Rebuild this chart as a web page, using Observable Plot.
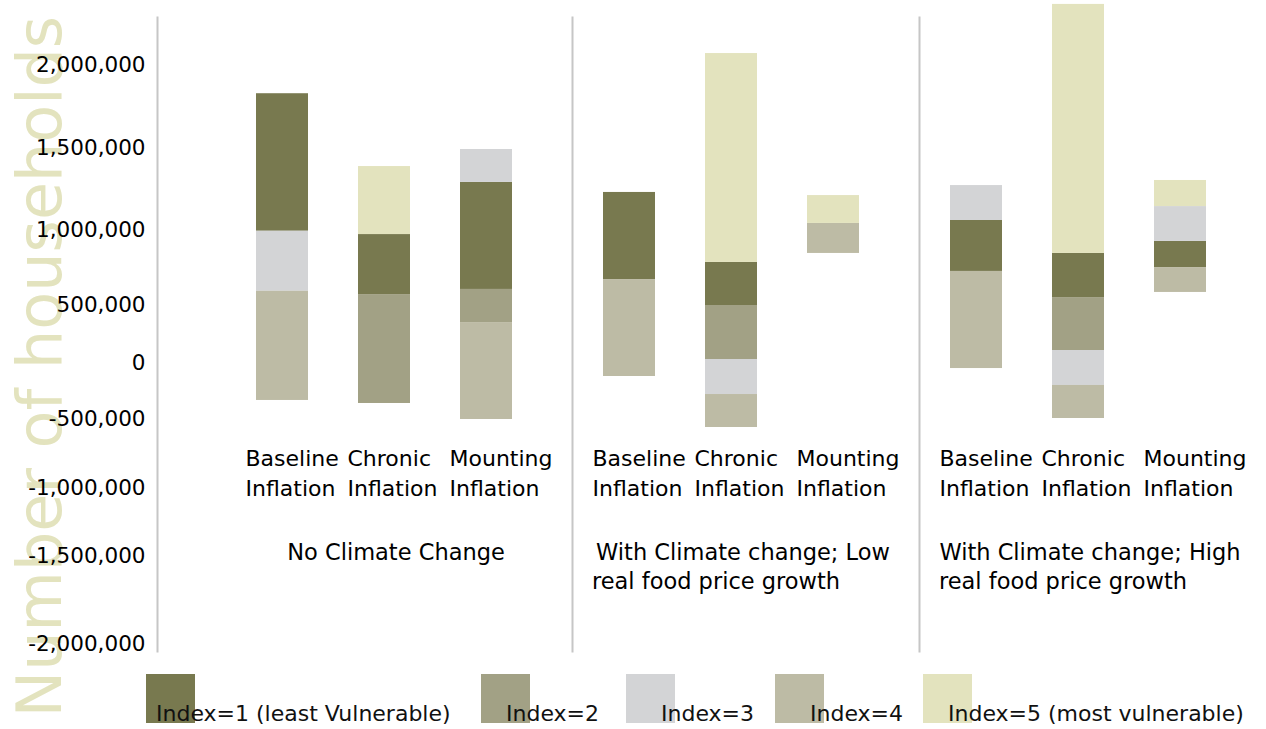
<!DOCTYPE html>
<html><head><meta charset="utf-8">
<script src="https://cdn.jsdelivr.net/npm/d3@7"></script>
<script src="https://cdn.jsdelivr.net/npm/@observablehq/plot@0.6"></script>
<style>
body{margin:0;background:#fff;font-family:"DejaVu Sans",sans-serif;}
#chart{position:relative;width:1266px;height:729px;overflow:hidden}
#legend{position:relative;width:1266px;height:64px}
.sw{position:absolute;top:9px;width:49px;height:49px}
.lb{position:absolute;top:38px;font-size:22px;line-height:22px;color:#111;white-space:nowrap}
</style></head><body><div id="chart"></div>
<script>
// ---- data ----
const groups = ["No Climate Change", "With Climate change; Low real food price growth", "With Climate change; High real food price growth"];
const groupLine1 = ["No Climate Change", "With Climate change; Low", "With Climate change; High"];
const groupLine2 = [null, "real food price growth", "real food price growth"];
const scenarios = ["Baseline Inflation", "Chronic Inflation", "Mounting Inflation"];
const indexNames = ["Index=1 (least Vulnerable)", "Index=2", "Index=3", "Index=4", "Index=5 (most vulnerable)"];
// segment [from, to] in households; bar order: NCC B,C,M | CC-low B,C,M | CC-high B,C,M
const index1 = [[995000,1830000],[573000,973000],[607000,1293000],[673000,1232000],[500000,787000],null,[727000,1061000],[553000,847000],[753000,927000]];
const index2 = [null,[-357000,573000],[353000,607000],null,[34500,500000],null,null,[112000,553000],null];
const index3 = [[595000,995000],null,[1293000,1494000],null,[-277000,34500],null,[1061000,1274000],[-196000,112000],[927000,1146000]];
const index4 = [[-330000,595000],null,[-500000,353000],[-116000,673000],[-558000,-277000],[847000,1043000],[-45000,727000],[-491000,-196000],[587000,753000]];
const index5 = [null,[973000,1390000],null,null,[787000,2072000],[1043000,1213000],null,[847000,2368000],[1146000,1305000]];
const yTicks = [2000000,1500000,1000000,500000,0,-500000,-1000000,-1500000,-2000000];

// ---- layout / style ----
// the printed value axis is unevenly spaced; warp maps households onto it
const yTickPixels = [65,148,230,305,363,419,488,556,644];
const warp = d3.scaleLinear().domain(yTicks).range(yTickPixels);
const colors = ["#78794f","#a2a185","#d3d4d6","#bdbba5","#e3e3be"];
const lineColor = "#c6c6c6";

const series = [index1,index2,index3,index4,index5];
const bars = [];
series.forEach((arr,k) => arr.forEach((seg,j) => {
  if (seg) bars.push({group: groups[Math.floor(j/3)], scenario: scenarios[j%3], index: indexNames[k], y1: seg[0], y2: seg[1]});
}));
const cats = groups.flatMap(g => scenarios.map(s => ({group: g, scenario: s})));
const grp = groups.map((g,i) => ({group: g, l1: groupLine1[i], l2: groupLine2[i]}));
const fmt = v => (Math.round(warp.invert(v) / 1000) * 1000).toLocaleString("en-US");

const plot = Plot.plot({
  width: 1266, height: 665,
  marginLeft: 157, marginRight: 0, marginTop: 17, marginBottom: 14,
  style: {fontFamily: "DejaVu Sans, sans-serif", fontSize: "22px", overflow: "visible", background: "#fff"},
  fx: {domain: groups, paddingInner: 0, paddingOuter: 0.0934, align: 1, axis: null, label: null},
  x: {domain: scenarios, paddingInner: 0.495, paddingOuter: 0.437, align: 0.344, axis: null, label: null},
  y: {transform: warp, domain: [warp(-2000000), warp(2000000)], range: [warp(-2000000), warp(2000000)], label: null},
  color: {domain: indexNames, range: colors},
  marks: [
    Plot.text(["Number of households"], {fx: () => groups[0], frameAnchor: "left", textAnchor: "middle", rotate: -90, lineAnchor: "bottom", dx: -165, dy: 32, fontSize: 62, fill: colors[4]}),
    Plot.frame({anchor: "left", fx: () => groups[0], dx: -68, stroke: lineColor, strokeWidth: 2}),
    Plot.frame({anchor: "left", fx: () => groups[1], stroke: lineColor, strokeWidth: 2}),
    Plot.frame({anchor: "left", fx: () => groups[2], stroke: lineColor, strokeWidth: 2}),
    Plot.axisY({ticks: yTicks.map(warp), tickFormat: fmt, tickSize: 0, tickPadding: 80, fontSize: 21.5, label: null, color: "#000"}),
    Plot.barY(bars, {fx: "group", x: "scenario", y1: "y1", y2: "y2", fill: "index"}),
    Plot.text(cats, {fx: "group", x: "scenario", text: d => d.scenario.replace(" ", "\n"), frameAnchor: "top", textAnchor: "start", lineAnchor: "bottom", lineHeight: 1.364, dx: -37, dy: 478, fontSize: 22, fill: "#000"}),
    Plot.text(grp, {fx: "group", text: "l1", frameAnchor: "top", textAnchor: "middle", lineAnchor: "bottom", dx: -3, dy: 542, fontSize: 22.5, fill: "#000"}),
    Plot.text(grp.filter(d => d.l2), {fx: "group", text: "l2", frameAnchor: "top", textAnchor: "middle", lineAnchor: "bottom", dx: -30, dy: 571, fontSize: 22.5, fill: "#000"})
  ]
});
const chart = document.getElementById("chart");
chart.appendChild(plot);

// ---- legend ----
const swatchLeft = [146,481,626,775,923];
const labelLeft = [156,506,661,810,948];
const legend = document.createElement("div");
legend.id = "legend";
indexNames.forEach((name,i) => {
  const sw = document.createElement("div");
  sw.className = "sw"; sw.style.left = swatchLeft[i] + "px"; sw.style.background = colors[i];
  legend.appendChild(sw);
  const lb = document.createElement("div");
  lb.className = "lb"; lb.style.left = labelLeft[i] + "px"; lb.textContent = name;
  legend.appendChild(lb);
});
chart.appendChild(legend);
</script></body></html>
